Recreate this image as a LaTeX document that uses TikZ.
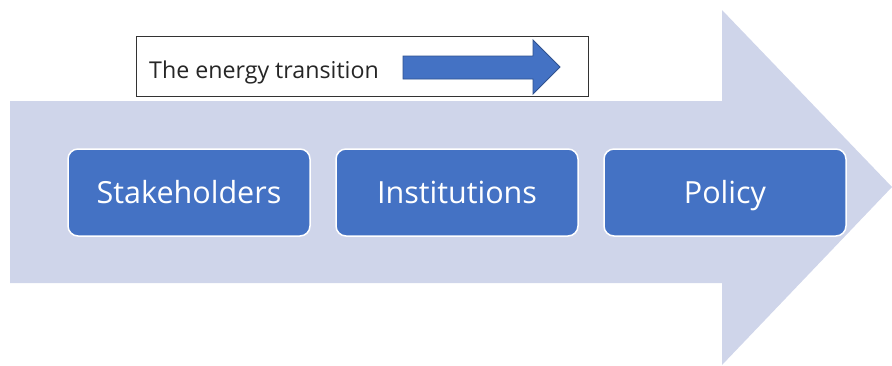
\documentclass[tikz,border=0pt]{standalone}
\usepackage{fontspec}
\setmainfont{Open Sans}
\definecolor{lightarrow}{HTML}{CFD5EA}
\definecolor{boxblue}{HTML}{4472C4}
\definecolor{edgeblue}{HTML}{2F528F}
\begin{document}
\begin{tikzpicture}[x=1pt,y=-1pt,
  stage/.style={draw=white,line width=1.5pt,fill=boxblue,rounded corners=10pt,
    minimum width=242pt,minimum height=87pt,text=white,font=\fontsize{30.5}{34}\selectfont,inner sep=0pt,
    text height=22pt,text depth=1pt},
  labelbox/.style={draw=black!80,line width=0.8pt,fill=white}]
\useasboundingbox (0,0) rectangle (892,365);
% big arrow
\fill[lightarrow] (10,101) -- (722,101) -- (722,10) -- (892,187) -- (722,365) -- (722,283) -- (10,283) -- cycle;
% label box
\node[labelbox,minimum width=452pt,minimum height=60pt,anchor=north west,inner sep=0pt] (lb) at (136,36) {};
\node[anchor=base west,font=\fontsize{23.2}{26}\selectfont,text=black!85,inner sep=0pt] (lt) at (149,78.5) {The energy transition};
\filldraw[fill=boxblue,draw=edgeblue,line width=0.8pt] (403,56) -- (533,56) -- (533,40) -- (560,67) -- (533,94) -- (533,79) -- (403,79) -- cycle;
% stages
\node[stage] (s1) at (189,192.5) {Stakeholders};
\node[stage] (s2) at (457,192.5) {Institutions};
\node[stage] (s3) at (725,192.5) {Policy};
\end{tikzpicture}
\end{document}
